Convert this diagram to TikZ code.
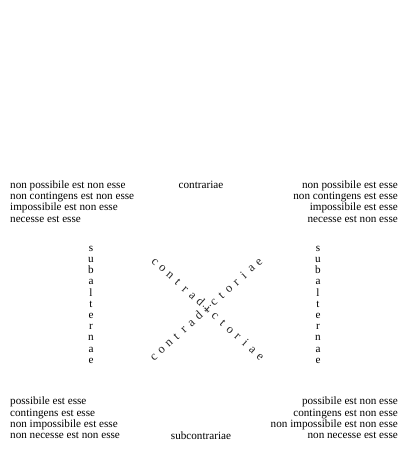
\documentclass[tikz,border=0pt]{standalone}
\usepackage{fontspec}
\setmainfont{Liberation Serif}
\begin{document}
\begin{tikzpicture}[
  x=1bp, y=-1bp,
  txt/.style={inner sep=0pt, font=\fontsize{11.2}{12}\selectfont},
  lft/.style={txt, anchor=base west},
  rgt/.style={txt, anchor=base east},
  mid/.style={txt, anchor=base},
  ltr/.style={inner sep=0pt, font=\fontsize{12.5}{13}\selectfont, text=black!85,
    text height=5pt, text depth=0pt, anchor=center},
]
  \useasboundingbox (0,0) rectangle (403,453);

  % Upper corners
  \foreach \t [count=\i] in {non possibile est non esse, non contingens est non esse,
      impossibile est non esse, necesse est esse}
    \node[lft] (tl\i) at (10, {177+11.3*\i}) {\t};
  \foreach \t [count=\i] in {non possibile est esse, non contingens est esse,
      impossibile est esse, necesse est non esse}
    \node[rgt] (tr\i) at (398, {177+11.3*\i}) {\t};
  \node[mid] (top) at (201, 189) {contrariae};

  % Lower corners
  \foreach \t [count=\i] in {possibile est esse, contingens est esse,
      non impossibile est esse, non necesse est non esse}
    \node[lft] (bl\i) at (10, {393.5+11.3*\i}) {\t};
  \foreach \t [count=\i] in {possibile est non esse, contingens est non esse,
      non impossibile est non esse, non necesse est esse}
    \node[rgt] (br\i) at (398, {393.5+11.3*\i}) {\t};
  \node[mid] (bot) at (201, 439) {subcontrariae};

  % Sides, one letter per row
  \foreach \l [count=\i] in {s,u,b,a,l,t,e,r,n,a,e} {
    \node[mid] (sl\i) at (91, {240+11.2*\i}) {\l};
    \node[mid] (sr\i) at (318, {240+11.2*\i}) {\l};
  }

  % The cross
  \foreach \l [count=\i] in {c,o,n,t,r,a,d,i,c,t,o,r,i,a,e} {
    \node[ltr, rotate=-42] (dn\i) at ({207+(\i-8)*7.5}, {310+(\i-8)*6.8}) {\l};
    \node[ltr, rotate=42] (up\i) at ({207+(\i-8)*7.5}, {310-(\i-8)*6.8}) {\l};
  }
\end{tikzpicture}
\end{document}
